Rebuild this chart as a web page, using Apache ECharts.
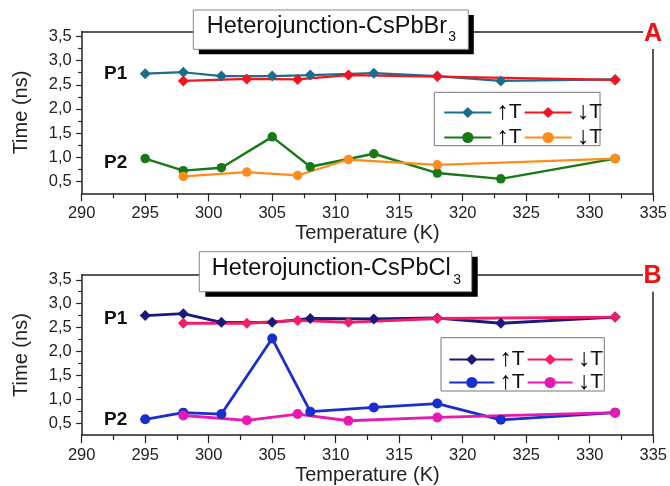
<!DOCTYPE html>
<html><head><meta charset="utf-8">
<script src="https://cdn.jsdelivr.net/npm/echarts@6/dist/echarts.min.js"></script>
<style>html,body{margin:0;padding:0;background:#fff}#c{width:670px;height:486px}</style>
</head><body><div id="c"></div>
<script>
// ---- data ----
const tempsUp = [295, 298, 301, 305, 308, 313, 318, 323, 332];
const tempsDown = [298, 303, 307, 311, 318, 332];
const aP1Up = [2.73, 2.76, 2.68, 2.68, 2.70, 2.74, 2.68, 2.58, 2.61];
const aP1Down = [2.58, 2.62, 2.61, 2.70, 2.67, 2.60];
const aP2Up = [0.97, 0.72, 0.78, 1.42, 0.80, 1.07, 0.67, 0.55, 0.97];
const aP2Down = [0.60, 0.69, 0.62, 0.95, 0.84, 0.97];
const bP1Up = [2.75, 2.79, 2.61, 2.61, 2.69, 2.68, 2.70, 2.59, 2.72];
const bP1Down = [2.59, 2.59, 2.65, 2.61, 2.69, 2.72];
const bP2Up = [0.58, 0.72, 0.69, 2.27, 0.74, 0.83, 0.91, 0.57, 0.72];
const bP2Down = [0.66, 0.56, 0.69, 0.55, 0.62, 0.72];
const yMajorTicks = [0.5, 1.0, 1.5, 2.0, 2.5, 3.0, 3.5];
const yMinorTicks = [0.75, 1.25, 1.75, 2.25, 2.75, 3.25];
const panelTitles = ['Heterojunction-CsPbBr', 'Heterojunction-CsPbCl'];
const panelSubs = ['3', '3'];
const panelLetters = ['A', 'B'];
const peakLabels = ['P1', 'P2'];

// ---- layout ----
const FONT = "'Liberation Sans', Arial, sans-serif";
const AX = '#222';
const gridLeft = 81.7, gridRight = 16.7;
const grids = [{ top: 31.7, height: 161.6 }, { top: 275, height: 161.7 }];
const X_MIN = 290, X_MAX = 335, Y_MIN = 0.25, Y_MAX = 3.6;

const xAxes = [], yAxes = [];
grids.forEach((g, gi) => {
  xAxes.push({
    type: 'value', gridIndex: gi, position: 'bottom', min: X_MIN, max: X_MAX, interval: 5,
    name: 'Temperature (K)', nameLocation: 'middle', nameGap: 27,
    nameTextStyle: { fontFamily: FONT, fontSize: 20, color: AX },
    axisLine: { show: true, onZero: false, lineStyle: { color: AX, width: 1.5 } },
    axisTick: { show: true, inside: false, length: 8, lineStyle: { color: AX, width: 1.2 } },
    minorTick: { show: true, splitNumber: 2, length: 5, lineStyle: { color: AX, width: 1.2 } },
    axisLabel: { show: true, margin: 12, fontFamily: FONT, fontSize: 16.5, color: AX, showMinLabel: true, showMaxLabel: true },
    splitLine: { show: false }, minorSplitLine: { show: false }
  });
  xAxes.push({
    type: 'value', gridIndex: gi, position: 'top', min: X_MIN, max: X_MAX,
    axisLine: { show: true, onZero: false, lineStyle: { color: AX, width: 1.5 } },
    axisTick: { show: false }, axisLabel: { show: false }, splitLine: { show: false }
  });
  yAxes.push({
    type: 'value', gridIndex: gi, position: 'left', min: Y_MIN, max: Y_MAX,
    name: 'Time (ns)', nameLocation: 'middle', nameGap: 50,
    nameTextStyle: { fontFamily: FONT, fontSize: 20, color: AX },
    axisLine: { show: true, onZero: false, lineStyle: { color: AX, width: 1.5 } },
    axisTick: { show: true, length: 5.5, customValues: yMajorTicks, lineStyle: { color: AX, width: 1.2 } },
    axisLabel: { show: true, margin: 10, customValues: yMajorTicks, fontFamily: FONT, fontSize: 16.5, color: AX,
      formatter: v => v.toFixed(1).replace('.', ',') },
    splitLine: { show: false }
  });
  yAxes.push({
    type: 'value', gridIndex: gi, position: 'left', min: Y_MIN, max: Y_MAX,
    axisLine: { show: false },
    axisTick: { show: true, length: 3.5, customValues: yMinorTicks, lineStyle: { color: AX, width: 1.2 } },
    axisLabel: { show: false }, splitLine: { show: false }
  });
  yAxes.push({
    type: 'value', gridIndex: gi, position: 'right', min: Y_MIN, max: Y_MAX,
    axisLine: { show: true, onZero: false, lineStyle: { color: AX, width: 1.5 } },
    axisTick: { show: false }, axisLabel: { show: false }, splitLine: { show: false }
  });
});

function mk(name, xs, ys, color, symbol, size, width, panel) {
  return {
    type: 'line', name, xAxisIndex: panel * 2, yAxisIndex: panel * 3,
    data: xs.map((x, i) => [x, ys[i]]),
    symbol, symbolSize: size, showSymbol: true,
    itemStyle: { color, borderWidth: 0 },
    lineStyle: { color, width },
    emphasis: { disabled: true }
  };
}

const series = [
  mk('A P1 up', tempsUp, aP1Up, '#1a6e8c', 'diamond', 11, 2.2, 0),
  mk('A P1 down', tempsDown, aP1Down, '#f5141e', 'diamond', 11, 2.2, 0),
  mk('A P2 up', tempsUp, aP2Up, '#177a17', 'circle', 9.5, 2.4, 0),
  mk('A P2 down', tempsDown, aP2Down, '#ff8c1a', 'circle', 9.5, 2.2, 0),
  mk('B P1 up', tempsUp, bP1Up, '#1a1a7a', 'diamond', 11, 2.8, 1),
  mk('B P1 down', tempsDown, bP1Down, '#f51a6a', 'diamond', 11, 2.8, 1),
  mk('B P2 up', tempsUp, bP2Up, '#1a2ecc', 'circle', 10, 2.8, 1),
  mk('B P2 down', tempsDown, bP2Down, '#e619b0', 'circle', 10, 2.8, 1)
];

const legendRich = {
  a: { fontFamily: FONT, fontWeight: 'bold', fontSize: 25, color: '#000', lineHeight: 14 },
  t: { fontFamily: FONT, fontSize: 21, color: '#111', lineHeight: 14 }
};
function legendFmt(name) { return name.indexOf('up') >= 0 ? '{a|\u2191}{t|T}' : '{a|\u2193}{t|T}'; }
function mkLegend(id, data, left, top, itemWidth) {
  return {
    id, data, left, top, z: 300, zlevel: 0, orient: 'horizontal', padding: 0, itemGap: 2,
    itemWidth, itemHeight: 14, selectedMode: false, formatter: legendFmt,
    textStyle: { rich: legendRich, padding: [0, 0, 0, 0] }
  };
}
const legends = [
  mkLegend('la1', ['A P1 up', 'A P1 down'], 443.3, 100, 47),
  mkLegend('la2', ['A P2 up', 'A P2 down'], 443.3, 125, 47),
  mkLegend('lb1', ['B P1 up', 'B P1 down'], 448.3, 347, 45),
  mkLegend('lb2', ['B P2 up', 'B P2 down'], 448.3, 370, 45)
];

// ---- decorations ----
const deco = [
  { box: [193.3, 10, 275, 39.3], shadow: [5.5, 5], txt: [206.7, 26.7], sub: [448.3, 36.7],
    letter: [653, 34], cover: [643, 24, 27, 25], peaks: [[104, 73.3], [104, 162.3]], leg: [434.3, 92.3, 165.7, 53.4] },
  { box: [199.3, 251.7, 272.4, 40], shadow: [6, 5], txt: [211.7, 268.7], sub: [453.3, 280],
    letter: [652.5, 276], cover: [643, 266, 27, 25.7], peaks: [[104, 319], [104, 420]], leg: [441, 337.7, 163.3, 53.3] }
];
const graphic = [];
deco.forEach((d, i) => {
  graphic.push({ type: 'rect', z: 50, shape: { x: d.leg[0], y: d.leg[1], width: d.leg[2], height: d.leg[3] },
    style: { fill: 'rgba(255,255,255,0)', stroke: '#777', lineWidth: 1 } });
  graphic.push({ type: 'rect', z: 100, shape: { x: d.cover[0], y: d.cover[1], width: d.cover[2], height: d.cover[3] },
    style: { fill: '#fff' } });
  graphic.push({ type: 'text', z: 101, x: d.letter[0], y: d.letter[1],
    style: { text: panelLetters[i], fill: '#f01010', font: "bold 25px 'Liberation Sans', Arial", align: 'center', verticalAlign: 'middle' } });
  graphic.push({ type: 'rect', z: 100, shape: { x: d.box[0] + d.shadow[0], y: d.box[1] + d.shadow[1], width: d.box[2], height: d.box[3] },
    style: { fill: '#000' } });
  graphic.push({ type: 'rect', z: 101, shape: { x: d.box[0], y: d.box[1], width: d.box[2], height: d.box[3] },
    style: { fill: '#fff', stroke: '#888', lineWidth: 1 } });
  graphic.push({ type: 'text', z: 102, x: d.txt[0], y: d.txt[1],
    style: { text: panelTitles[i], fill: '#111', font: "23.5px 'Liberation Sans', Arial", align: 'left', verticalAlign: 'middle' } });
  graphic.push({ type: 'text', z: 102, x: d.sub[0], y: d.sub[1],
    style: { text: panelSubs[i], fill: '#111', font: "14px 'Liberation Sans', Arial", align: 'left', verticalAlign: 'middle' } });
  d.peaks.forEach((p, k) => {
    graphic.push({ type: 'text', z: 102, x: p[0], y: p[1],
      style: { text: peakLabels[k], fill: '#111', font: "bold 19px 'Liberation Sans', Arial", align: 'left', verticalAlign: 'middle' } });
  });
});

const chart = echarts.init(document.getElementById('c'), null, { renderer: 'canvas' });
chart.setOption({
  animation: false,
  backgroundColor: '#fff',
  textStyle: { fontFamily: FONT },
  grid: grids.map(g => ({ left: gridLeft, right: gridRight, top: g.top, height: g.height, containLabel: false })),
  xAxis: xAxes,
  yAxis: yAxes,
  legend: legends,
  series,
  graphic
});
</script>
</body></html>
